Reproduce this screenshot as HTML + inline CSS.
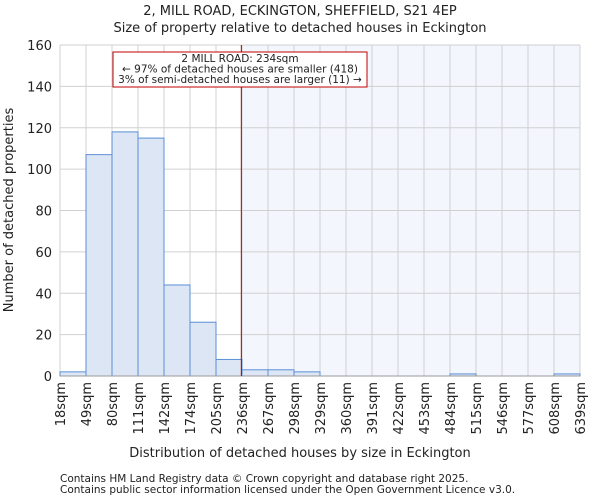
<!DOCTYPE html>
<html><head><meta charset="utf-8"><style>
body{margin:0;background:#fff;font-family:"DejaVu Sans","Liberation Sans",sans-serif;}
svg text{font-family:"DejaVu Sans","Liberation Sans",sans-serif;fill:#222;}
</style></head><body>
<svg id="chart" width="600" height="500" xmlns="http://www.w3.org/2000/svg">
<text x="300" y="15" text-anchor="middle" font-size="13">2, MILL ROAD, ECKINGTON, SHEFFIELD, S21 4EP</text>
<text x="300" y="32" text-anchor="middle" font-size="13">Size of property relative to detached houses in Eckington</text>
<g id="plot"></g>
<text x="300" y="457" text-anchor="middle" font-size="13">Distribution of detached houses by size in Eckington</text>
<text transform="translate(13,210) rotate(-90)" text-anchor="middle" font-size="13">Number of detached properties</text>
<text x="60" y="482" font-size="10.5">Contains HM Land Registry data © Crown copyright and database right 2025.</text>
<text x="60" y="493" font-size="10.5">Contains public sector information licensed under the Open Government Licence v3.0.</text>
</svg>
<script>
const binEdges=[18,49,80,111,142,174,205,236,267,298,329,360,391,422,453,484,515,546,577,608,639];
const counts=[2,107,118,115,44,26,8,3,3,2,0,0,0,0,0,1,0,0,0,1];
const yTicks=[0,20,40,60,80,100,120,140,160];
const propertySize=234;
const NS="http://www.w3.org/2000/svg";
const g=document.getElementById('plot');
const L=60,R=580,T=45,B=376,yMax=160;
const nb=counts.length, bw=(R-L)/nb;
function xIdx(i){return L+i*bw;}
function xVal(v){for(let i=0;i<binEdges.length-1;i++){if(v<=binEdges[i+1])return xIdx(i)+bw*(v-binEdges[i])/(binEdges[i+1]-binEdges[i]);}return R;}
function y(v){return B-(B-T)*v/yMax;}
function mk(tag,a){const e=document.createElementNS(NS,tag);for(const k in a)e.setAttribute(k,a[k]);g.appendChild(e);return e;}
const px=xVal(propertySize)+1;
let e=mk('rect',{x:px,y:T,width:R-px,height:B-T,fill:'#f4f6fd'});


binEdges.forEach((v,i)=>{const l=mk('line',{x1:xIdx(i),x2:xIdx(i),y1:T,y2:B,stroke:'#d0d0d0','stroke-width':1});

});
yTicks.forEach(v=>{const l=mk('line',{x1:L,x2:R,y1:y(v),y2:y(v),stroke:'#d0d0d0','stroke-width':1});


const t=mk('text',{x:L-8,y:y(v)+5,'text-anchor':'end','font-size':13});t.textContent=v;

});
counts.forEach((c,i)=>{if(c<=0)return;const r=mk('rect',{x:xIdx(i),y:y(c),width:bw,height:B-y(c),fill:'#dce6f4',stroke:'#5b8fd6','stroke-width':1});

});
binEdges.forEach((v,i)=>{const t=mk('text',{transform:`translate(${xIdx(i)+5},382) rotate(-90)`,'text-anchor':'end','font-size':13});t.textContent=v+'sqm';

});
const ax=mk('line',{x1:L,x2:R,y1:B,y2:B,stroke:'#999','stroke-width':1});


const pl=mk('line',{x1:px,x2:px,y1:T,y2:B,stroke:'#b00000','stroke-width':1});


const bx=mk('rect',{x:113,y:52,width:254,height:35,fill:'#fff',stroke:'#c00000','stroke-width':1});


['2 MILL ROAD: 234sqm','← 97% of detached houses are smaller (418)','3% of semi-detached houses are larger (11) →'].forEach((s,i)=>{const t=mk('text',{x:240,y:62+i*10.5,'text-anchor':'middle','font-size':10.5});t.textContent=s;

});
</script>
</body></html>
